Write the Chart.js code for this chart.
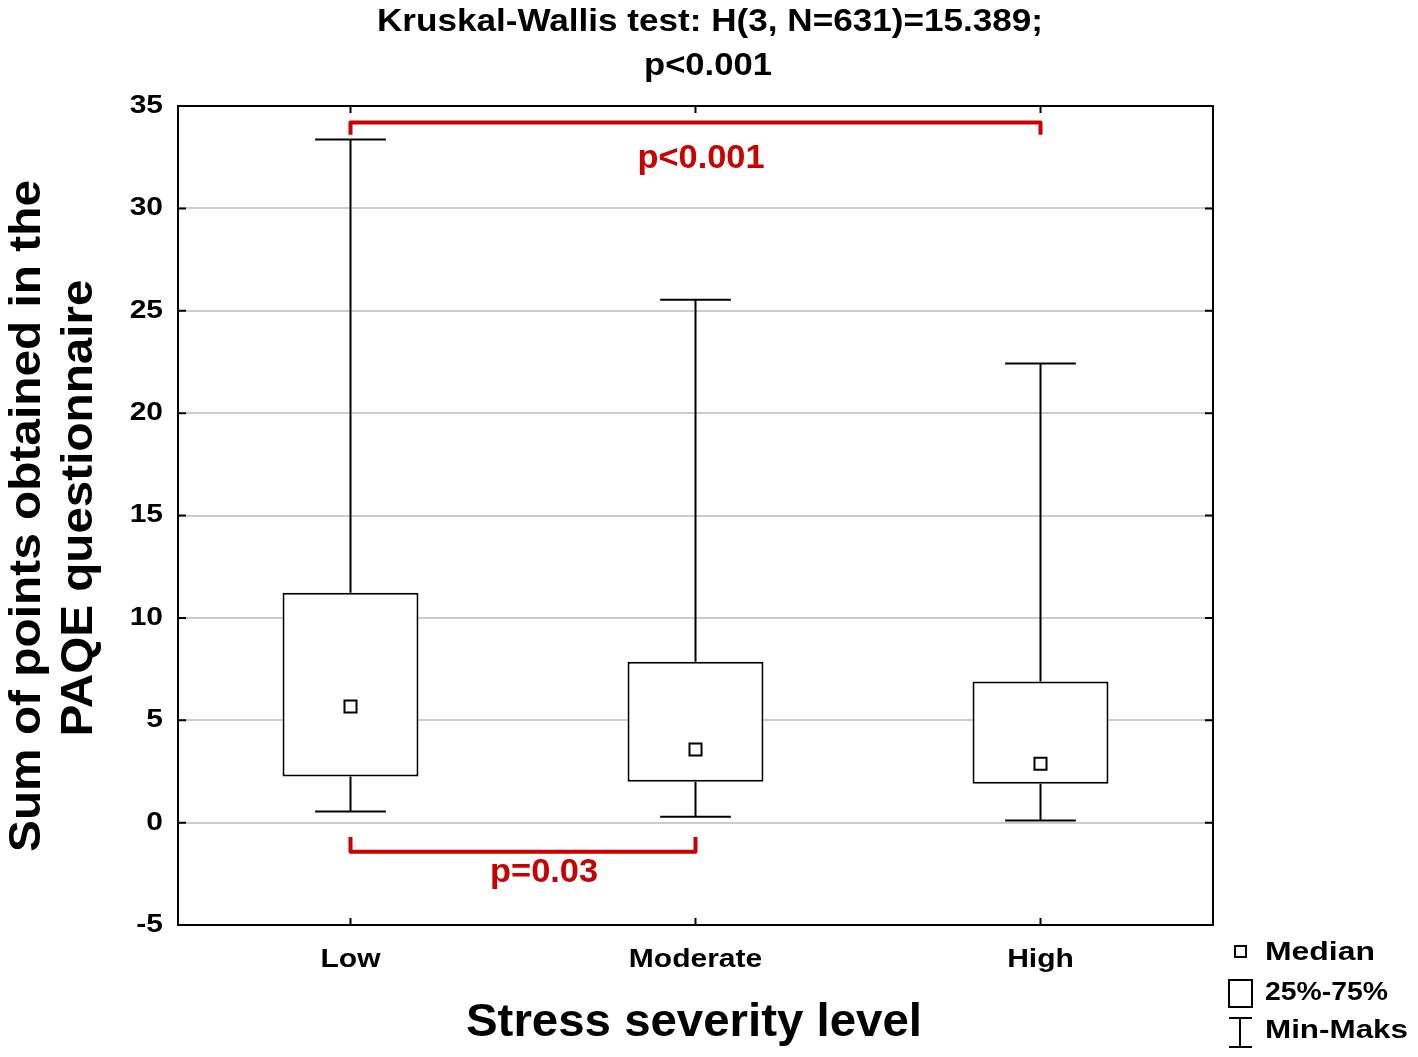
<!DOCTYPE html>
<html>
<head>
<meta charset="utf-8">
<script src="https://cdn.jsdelivr.net/npm/chart.js@4.4.1/dist/chart.umd.min.js"></script>
<style>
  html, body { margin: 0; padding: 0; background: #fff; }
  #wrap { width: 1418px; height: 1057px; position: relative; }
</style>
</head>
<body>
<div id="wrap"><canvas id="chart1"></canvas></div>
<script>
const categories = ['Low', 'Moderate', 'High'];
const minVals = [0.54, 0.29, 0.1];
const q1Vals = [2.25, 2.0, 1.9];
const medianVals = [5.67, 3.57, 2.88];
const q3Vals = [11.23, 7.86, 6.89];
const maxVals = [33.36, 25.54, 22.42];

// pairwise comparisons (red brackets)
const pairFrom = [0, 0];
const pairTo = [2, 1];
const pairLevel = [34.2, -1.42];
const pairEnd = [33.6, -0.7];
const pairLabels = ['p<0.001', 'p=0.03'];
const pairLabelAt = [1.016, 0.561];
const pairLabelLevel = [32.4, -2.45];

const RED = '#c80000';
const FONT = '"Liberation Sans", Arial, sans-serif';

// draw text, squeezed/stretched to a width (or by a factor sx)
function fitText(ctx, txt, x, y, size, width, color, opts) {
  opts = opts || {};
  ctx.save();
  ctx.font = 'bold ' + size + 'px ' + FONT;
  ctx.fillStyle = color || '#000';
  ctx.textBaseline = 'middle';
  ctx.translate(x, y);
  if (opts.rotate) ctx.rotate(opts.rotate);
  const w = ctx.measureText(txt).width;
  ctx.scale(width ? width / w : opts.sx, 1);
  ctx.textAlign = opts.align || 'center';
  ctx.fillText(txt, 0, 0);
  ctx.restore();
}

const boxPlugin = {
  id: 'boxExtras',
  beforeDatasetsDraw(chart) {
    const ctx = chart.ctx;
    const a = chart.chartArea;
    const x = chart.scales.x, y = chart.scales.y;
    ctx.save();
    ctx.strokeStyle = '#000';
    ctx.lineWidth = 2;
    // inward tick marks
    y.ticks.forEach((t, i) => {
      const py = y.getPixelForTick(i);
      ctx.beginPath();
      ctx.moveTo(a.left, py); ctx.lineTo(a.left + 8, py);
      ctx.moveTo(a.right, py); ctx.lineTo(a.right - 8, py);
      ctx.stroke();
    });
    x.ticks.forEach((t, i) => {
      const px = x.getPixelForTick(i);
      ctx.beginPath();
      ctx.moveTo(px, a.top); ctx.lineTo(px, a.top + 7);
      ctx.moveTo(px, a.bottom); ctx.lineTo(px, a.bottom - 7);
      ctx.stroke();
    });
    // whiskers
    const meta = chart.getDatasetMeta(0);
    categories.forEach((c, i) => {
      const px = x.getPixelForValue(i);
      const half = meta.data[i].width * 0.26;
      ctx.beginPath();
      ctx.moveTo(px, y.getPixelForValue(maxVals[i]));
      ctx.lineTo(px, y.getPixelForValue(q3Vals[i]));
      ctx.moveTo(px, y.getPixelForValue(q1Vals[i]));
      ctx.lineTo(px, y.getPixelForValue(minVals[i]));
      ctx.moveTo(px - half, y.getPixelForValue(maxVals[i]));
      ctx.lineTo(px + half, y.getPixelForValue(maxVals[i]));
      ctx.moveTo(px - half, y.getPixelForValue(minVals[i]));
      ctx.lineTo(px + half, y.getPixelForValue(minVals[i]));
      ctx.stroke();
    });
    ctx.restore();
  },
  afterDraw(chart) {
    const ctx = chart.ctx;
    const a = chart.chartArea;
    const x = chart.scales.x, y = chart.scales.y;
    ctx.save();
    // frame
    ctx.strokeStyle = '#000';
    ctx.lineWidth = 2;
    ctx.strokeRect(a.left, a.top, a.right - a.left, a.bottom - a.top);
    // red brackets
    ctx.strokeStyle = RED;
    ctx.lineWidth = 4;
    ctx.lineJoin = 'round';
    pairLabels.forEach((lab, i) => {
      const x1 = x.getPixelForValue(pairFrom[i]);
      const x2 = x.getPixelForValue(pairTo[i]);
      const yl = y.getPixelForValue(pairLevel[i]);
      const ye = y.getPixelForValue(pairEnd[i]);
      ctx.beginPath();
      ctx.moveTo(x1, ye); ctx.lineTo(x1, yl); ctx.lineTo(x2, yl); ctx.lineTo(x2, ye);
      ctx.stroke();
      const lw = i === 0 ? 127 : 108;
      fitText(ctx, lab, x.getPixelForValue(pairLabelAt[i]), y.getPixelForValue(pairLabelLevel[i]), 33, lw, RED);
    });
    ctx.restore();

    // tick labels
    y.ticks.forEach((t, i) => {
      fitText(ctx, String(t.value), a.left - 15, y.getPixelForTick(i), 25, 0, '#000', {align: 'right', sx: 1.2});
    });
    x.ticks.forEach((t, i) => {
      fitText(ctx, categories[t.value], x.getPixelForTick(i), 960, 25, 0, '#000', {sx: 1.2});
    });

    // titles
    fitText(ctx, 'Kruskal-Wallis test: H(3, N=631)=15.389;', 710, 22, 31, 666, '#000');
    fitText(ctx, 'p<0.001', 708, 66, 31, 128, '#000');
    fitText(ctx, 'Sum of points obtained in the', 28, 516, 45, 672, '#000', {rotate: -Math.PI / 2});
    fitText(ctx, 'PAQE questionnaire', 80, 508, 45, 457, '#000', {rotate: -Math.PI / 2});
    fitText(ctx, 'Stress severity level', 694, 1023, 47, 456, '#000');

    // legend
    ctx.save();
    ctx.strokeStyle = '#000';
    ctx.lineWidth = 2;
    ctx.strokeRect(1235, 946, 11, 11);
    ctx.strokeRect(1229, 980, 23, 27);
    ctx.beginPath();
    ctx.moveTo(1229, 1018); ctx.lineTo(1252, 1018);
    ctx.moveTo(1240, 1018); ctx.lineTo(1240, 1047);
    ctx.moveTo(1229, 1047); ctx.lineTo(1252, 1047);
    ctx.stroke();
    ctx.restore();
    fitText(ctx, 'Median', 1265, 953, 25, 110, '#000', {align: 'left'});
    fitText(ctx, '25%-75%', 1265, 993, 25, 123, '#000', {align: 'left'});
    fitText(ctx, 'Min-Maks', 1265, 1031, 25, 143, '#000', {align: 'left'});
  }
};

const boxData = categories.map((c, i) => [q1Vals[i], q3Vals[i]]);

const config = {
  type: 'bar',
  data: {
    labels: categories,
    datasets: [{
      label: '25%-75%',
      data: boxData,
      backgroundColor: '#fff',
      borderColor: '#000',
      borderWidth: 2,
      borderSkipped: false,
      categoryPercentage: 1,
      barPercentage: 0.394,
      order: 2
    }, {
      type: 'line',
      label: 'Median',
      data: medianVals,
      showLine: false,
      pointStyle: 'rect',
      pointRadius: 8.5,
      pointBackgroundColor: '#fff',
      pointBorderColor: '#000',
      pointBorderWidth: 2,
      order: 1
    }]
  },
  options: {
    responsive: true,
    maintainAspectRatio: false,
    animation: false,
    layout: { padding: { left: 0, top: 106, right: 205, bottom: 0 } },
    scales: {
      x: {
        afterFit(scale) { scale.height = 132; },
        grid: { display: false, drawTicks: false },
        border: { display: false },
        ticks: { display: false }
      },
      y: {
        min: -5,
        max: 35,
        afterFit(scale) { scale.width = 178; },
        grid: { color: '#cccccc', lineWidth: 2, drawTicks: false },
        border: { display: false },
        ticks: { display: false, stepSize: 5 }
      }
    },
    plugins: {
      legend: { display: false },
      tooltip: { enabled: false },
      title: { display: false }
    }
  },
  plugins: [boxPlugin]
};

var myChart = new Chart(
  document.getElementById('chart1'),
  config
);
</script>
</body>
</html>
